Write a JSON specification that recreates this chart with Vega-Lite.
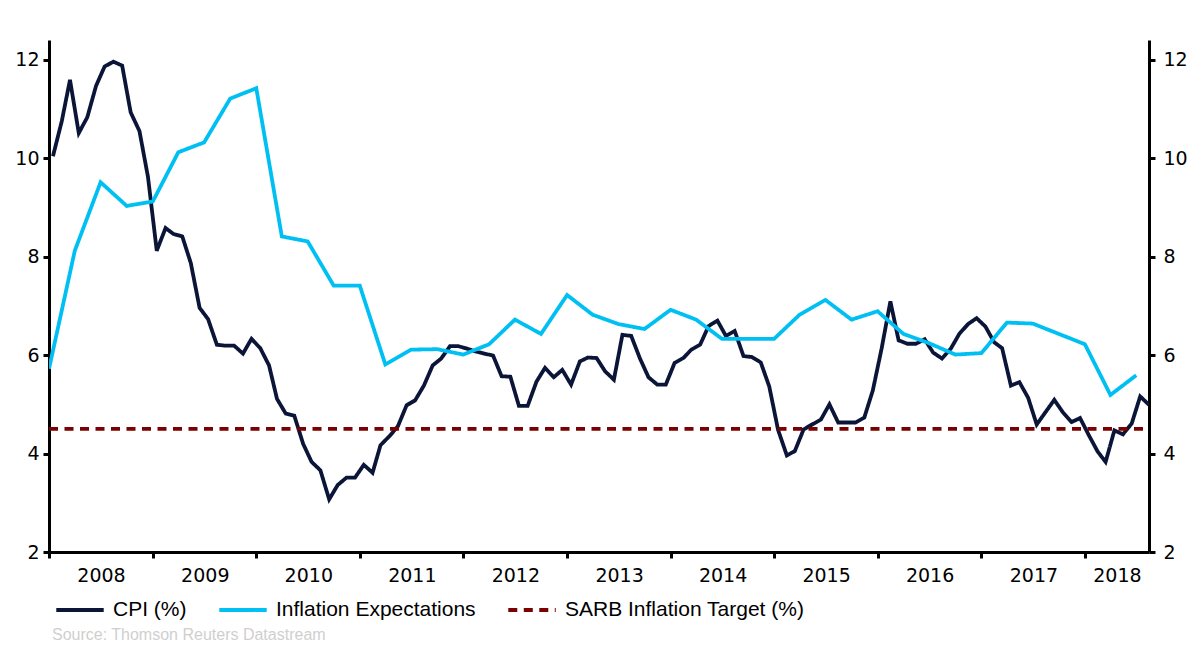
{
  "$schema": "https://vega.github.io/schema/vega-lite/v6.json",
  "width": 1100,
  "height": 512,
  "autosize": {"type": "none"},
  "padding": {"left": 49, "top": 40, "right": 49, "bottom": 96},
  "background": "white",
  "config": {
    "view": {"stroke": null},
    "axis": {"grid": false, "domainColor": "black", "tickColor": "black", "labelColor": "black", "domainWidth": 3, "tickWidth": 3, "tickSize": 6, "labelFont": "DejaVu Sans", "labelFontSize": 19, "title": null}
  },
  "title": {"text": "Source: Thomson Reuters Datastream", "orient": "bottom", "anchor": "start", "frame": "group", "font": "Liberation Sans", "fontSize": 16, "fontWeight": "normal", "color": "#cfcfcf", "dx": 3, "offset": 7},
  "data": {"values": [
    {"date":"2008-01-15","series":"CPI (%)","value":10.04},{"date":"2008-02-15","series":"CPI (%)","value":10.75},{"date":"2008-03-15","series":"CPI (%)","value":11.59},{"date":"2008-04-15","series":"CPI (%)","value":10.51},{"date":"2008-05-15","series":"CPI (%)","value":10.83},{"date":"2008-06-15","series":"CPI (%)","value":11.47},{"date":"2008-07-15","series":"CPI (%)","value":11.86},{"date":"2008-08-15","series":"CPI (%)","value":11.96},{"date":"2008-09-15","series":"CPI (%)","value":11.88},{"date":"2008-10-15","series":"CPI (%)","value":10.93},{"date":"2008-11-15","series":"CPI (%)","value":10.55},{"date":"2008-12-15","series":"CPI (%)","value":9.62},
    {"date":"2009-01-15","series":"CPI (%)","value":8.12},{"date":"2009-02-15","series":"CPI (%)","value":8.58},{"date":"2009-03-15","series":"CPI (%)","value":8.46},{"date":"2009-04-15","series":"CPI (%)","value":8.41},{"date":"2009-05-15","series":"CPI (%)","value":7.87},{"date":"2009-06-15","series":"CPI (%)","value":6.96},{"date":"2009-07-15","series":"CPI (%)","value":6.73},{"date":"2009-08-15","series":"CPI (%)","value":6.21},{"date":"2009-09-15","series":"CPI (%)","value":6.19},{"date":"2009-10-15","series":"CPI (%)","value":6.19},{"date":"2009-11-15","series":"CPI (%)","value":6.03},{"date":"2009-12-15","series":"CPI (%)","value":6.33},
    {"date":"2010-01-15","series":"CPI (%)","value":6.14},{"date":"2010-02-15","series":"CPI (%)","value":5.79},{"date":"2010-03-15","series":"CPI (%)","value":5.11},{"date":"2010-04-15","series":"CPI (%)","value":4.81},{"date":"2010-05-15","series":"CPI (%)","value":4.77},{"date":"2010-06-15","series":"CPI (%)","value":4.20},{"date":"2010-07-15","series":"CPI (%)","value":3.83},{"date":"2010-08-15","series":"CPI (%)","value":3.66},{"date":"2010-09-15","series":"CPI (%)","value":3.07},{"date":"2010-10-15","series":"CPI (%)","value":3.36},{"date":"2010-11-15","series":"CPI (%)","value":3.51},{"date":"2010-12-15","series":"CPI (%)","value":3.51},
    {"date":"2011-01-15","series":"CPI (%)","value":3.77},{"date":"2011-02-15","series":"CPI (%)","value":3.61},{"date":"2011-03-15","series":"CPI (%)","value":4.17},{"date":"2011-04-15","series":"CPI (%)","value":4.35},{"date":"2011-05-15","series":"CPI (%)","value":4.55},{"date":"2011-06-15","series":"CPI (%)","value":4.98},{"date":"2011-07-15","series":"CPI (%)","value":5.08},{"date":"2011-08-15","series":"CPI (%)","value":5.38},{"date":"2011-09-15","series":"CPI (%)","value":5.79},{"date":"2011-10-15","series":"CPI (%)","value":5.93},{"date":"2011-11-15","series":"CPI (%)","value":6.18},{"date":"2011-12-15","series":"CPI (%)","value":6.18},
    {"date":"2012-01-15","series":"CPI (%)","value":6.13},{"date":"2012-02-15","series":"CPI (%)","value":6.07},{"date":"2012-03-15","series":"CPI (%)","value":6.03},{"date":"2012-04-15","series":"CPI (%)","value":5.99},{"date":"2012-05-15","series":"CPI (%)","value":5.57},{"date":"2012-06-15","series":"CPI (%)","value":5.56},{"date":"2012-07-15","series":"CPI (%)","value":4.97},{"date":"2012-08-15","series":"CPI (%)","value":4.97},{"date":"2012-09-15","series":"CPI (%)","value":5.46},{"date":"2012-10-15","series":"CPI (%)","value":5.74},{"date":"2012-11-15","series":"CPI (%)","value":5.55},{"date":"2012-12-15","series":"CPI (%)","value":5.70},
    {"date":"2013-01-15","series":"CPI (%)","value":5.40},{"date":"2013-02-15","series":"CPI (%)","value":5.87},{"date":"2013-03-15","series":"CPI (%)","value":5.95},{"date":"2013-04-15","series":"CPI (%)","value":5.94},{"date":"2013-05-15","series":"CPI (%)","value":5.67},{"date":"2013-06-15","series":"CPI (%)","value":5.50},{"date":"2013-07-15","series":"CPI (%)","value":6.41},{"date":"2013-08-15","series":"CPI (%)","value":6.39},{"date":"2013-09-15","series":"CPI (%)","value":5.93},{"date":"2013-10-15","series":"CPI (%)","value":5.55},{"date":"2013-11-15","series":"CPI (%)","value":5.40},{"date":"2013-12-15","series":"CPI (%)","value":5.40},
    {"date":"2014-01-15","series":"CPI (%)","value":5.84},{"date":"2014-02-15","series":"CPI (%)","value":5.94},{"date":"2014-03-15","series":"CPI (%)","value":6.11},{"date":"2014-04-15","series":"CPI (%)","value":6.21},{"date":"2014-05-15","series":"CPI (%)","value":6.59},{"date":"2014-06-15","series":"CPI (%)","value":6.70},{"date":"2014-07-15","series":"CPI (%)","value":6.39},{"date":"2014-08-15","series":"CPI (%)","value":6.49},{"date":"2014-09-15","series":"CPI (%)","value":5.98},{"date":"2014-10-15","series":"CPI (%)","value":5.96},{"date":"2014-11-15","series":"CPI (%)","value":5.85},{"date":"2014-12-15","series":"CPI (%)","value":5.36},
    {"date":"2015-01-15","series":"CPI (%)","value":4.48},{"date":"2015-02-15","series":"CPI (%)","value":3.96},{"date":"2015-03-15","series":"CPI (%)","value":4.05},{"date":"2015-04-15","series":"CPI (%)","value":4.49},{"date":"2015-05-15","series":"CPI (%)","value":4.59},{"date":"2015-06-15","series":"CPI (%)","value":4.69},{"date":"2015-07-15","series":"CPI (%)","value":5.00},{"date":"2015-08-15","series":"CPI (%)","value":4.63},{"date":"2015-09-15","series":"CPI (%)","value":4.63},{"date":"2015-10-15","series":"CPI (%)","value":4.63},{"date":"2015-11-15","series":"CPI (%)","value":4.73},{"date":"2015-12-15","series":"CPI (%)","value":5.28},
    {"date":"2016-01-15","series":"CPI (%)","value":6.13},{"date":"2016-02-15","series":"CPI (%)","value":7.09},{"date":"2016-03-15","series":"CPI (%)","value":6.30},{"date":"2016-04-15","series":"CPI (%)","value":6.23},{"date":"2016-05-15","series":"CPI (%)","value":6.23},{"date":"2016-06-15","series":"CPI (%)","value":6.32},{"date":"2016-07-15","series":"CPI (%)","value":6.05},{"date":"2016-08-15","series":"CPI (%)","value":5.93},{"date":"2016-09-15","series":"CPI (%)","value":6.13},{"date":"2016-10-15","series":"CPI (%)","value":6.43},{"date":"2016-11-15","series":"CPI (%)","value":6.63},{"date":"2016-12-15","series":"CPI (%)","value":6.75},
    {"date":"2017-01-15","series":"CPI (%)","value":6.58},{"date":"2017-02-15","series":"CPI (%)","value":6.26},{"date":"2017-03-15","series":"CPI (%)","value":6.14},{"date":"2017-04-15","series":"CPI (%)","value":5.38},{"date":"2017-05-15","series":"CPI (%)","value":5.45},{"date":"2017-06-15","series":"CPI (%)","value":5.13},{"date":"2017-07-15","series":"CPI (%)","value":4.59},{"date":"2017-08-15","series":"CPI (%)","value":4.84},{"date":"2017-09-15","series":"CPI (%)","value":5.09},{"date":"2017-10-15","series":"CPI (%)","value":4.84},{"date":"2017-11-15","series":"CPI (%)","value":4.64},{"date":"2017-12-15","series":"CPI (%)","value":4.72},
    {"date":"2018-01-15","series":"CPI (%)","value":4.37},{"date":"2018-02-15","series":"CPI (%)","value":4.04},{"date":"2018-03-15","series":"CPI (%)","value":3.83},{"date":"2018-04-15","series":"CPI (%)","value":4.47},{"date":"2018-05-15","series":"CPI (%)","value":4.39},{"date":"2018-06-15","series":"CPI (%)","value":4.61},{"date":"2018-07-15","series":"CPI (%)","value":5.16},{"date":"2018-08-15","series":"CPI (%)","value":4.99},
    {"date":"2008-01-01","series":"Inflation Expectations","value":5.72},{"date":"2008-04-01","series":"Inflation Expectations","value":8.12},{"date":"2008-07-01","series":"Inflation Expectations","value":9.51},{"date":"2008-10-01","series":"Inflation Expectations","value":9.03},
    {"date":"2009-01-01","series":"Inflation Expectations","value":9.12},{"date":"2009-04-01","series":"Inflation Expectations","value":10.12},{"date":"2009-07-01","series":"Inflation Expectations","value":10.32},{"date":"2009-10-01","series":"Inflation Expectations","value":11.21},
    {"date":"2010-01-01","series":"Inflation Expectations","value":11.42},{"date":"2010-04-01","series":"Inflation Expectations","value":8.41},{"date":"2010-07-01","series":"Inflation Expectations","value":8.31},{"date":"2010-10-01","series":"Inflation Expectations","value":7.41},
    {"date":"2011-01-01","series":"Inflation Expectations","value":7.41},{"date":"2011-04-01","series":"Inflation Expectations","value":5.81},{"date":"2011-07-01","series":"Inflation Expectations","value":6.11},{"date":"2011-10-01","series":"Inflation Expectations","value":6.12},
    {"date":"2012-01-01","series":"Inflation Expectations","value":6.01},{"date":"2012-04-01","series":"Inflation Expectations","value":6.22},{"date":"2012-07-01","series":"Inflation Expectations","value":6.72},{"date":"2012-10-01","series":"Inflation Expectations","value":6.43},
    {"date":"2013-01-01","series":"Inflation Expectations","value":7.22},{"date":"2013-04-01","series":"Inflation Expectations","value":6.82},{"date":"2013-07-01","series":"Inflation Expectations","value":6.63},{"date":"2013-10-01","series":"Inflation Expectations","value":6.53},
    {"date":"2014-01-01","series":"Inflation Expectations","value":6.92},{"date":"2014-04-01","series":"Inflation Expectations","value":6.72},{"date":"2014-07-01","series":"Inflation Expectations","value":6.33},{"date":"2014-10-01","series":"Inflation Expectations","value":6.33},
    {"date":"2015-01-01","series":"Inflation Expectations","value":6.33},{"date":"2015-04-01","series":"Inflation Expectations","value":6.82},{"date":"2015-07-01","series":"Inflation Expectations","value":7.12},{"date":"2015-10-01","series":"Inflation Expectations","value":6.72},
    {"date":"2016-01-01","series":"Inflation Expectations","value":6.89},{"date":"2016-04-01","series":"Inflation Expectations","value":6.43},{"date":"2016-07-01","series":"Inflation Expectations","value":6.24},{"date":"2016-10-01","series":"Inflation Expectations","value":6.01},
    {"date":"2017-01-01","series":"Inflation Expectations","value":6.04},{"date":"2017-04-01","series":"Inflation Expectations","value":6.66},{"date":"2017-07-01","series":"Inflation Expectations","value":6.64},{"date":"2017-10-01","series":"Inflation Expectations","value":6.43},
    {"date":"2018-01-01","series":"Inflation Expectations","value":6.22},{"date":"2018-04-01","series":"Inflation Expectations","value":5.19},{"date":"2018-07-01","series":"Inflation Expectations","value":5.59},
    {"date":"2008-01-01","series":"SARB Inflation Target (%)","value":4.5},{"date":"2018-08-15","series":"SARB Inflation Target (%)","value":4.5}
  ]},
  "encoding": {
    "x": {
      "field": "date", "type": "temporal",
      "scale": {"type": "utc", "domain": [{"year": 2008, "month": 1, "date": 1, "utc": true}, {"year": 2018, "month": 8, "date": 15, "utc": true}], "nice": false},
      "axis": {"format": "%Y", "tickCount": {"interval": "year", "step": 1}, "labelPadding": 8, "labelAlign": "center", "labelFlush": false, "labelOverlap": false,
               "labelOffset": {"condition": {"test": "utcFormat(datum.value, '%Y') == '2018'", "value": 32}, "value": 52}}
    }
  },
  "layer": [
    {
      "mark": {"type": "line", "strokeWidth": 3.8, "clip": true},
      "encoding": {
        "y": {"field": "value", "type": "quantitative", "scale": {"domain": [2, 12.4], "nice": false, "zero": false},
              "axis": {"orient": "left", "values": [2, 4, 6, 8, 10, 12], "labelPadding": 4}},
        "color": {"field": "series", "type": "nominal",
          "scale": {"domain": ["CPI (%)", "Inflation Expectations", "SARB Inflation Target (%)"], "range": ["#0a1538", "#00c0f3", "#7b0000"]},
          "legend": {"orient": "none", "legendX": 5, "legendY": 544, "direction": "horizontal", "title": null, "padding": 0,
                     "symbolType": "stroke", "symbolSize": 2250, "symbolStrokeWidth": 4,
                     "labelFont": "Liberation Sans", "labelFontSize": 21, "labelColor": "black", "labelOffset": 7, "columnPadding": 24, "labelLimit": 400}},
        "strokeDash": {"field": "series", "type": "nominal",
          "scale": {"domain": ["CPI (%)", "Inflation Expectations", "SARB Inflation Target (%)"], "range": [[1, 0], [1, 0], [9, 6.5]]},
          "legend": {"orient": "none", "legendX": 5, "legendY": 544, "direction": "horizontal", "title": null, "padding": 0,
                     "symbolType": "stroke", "symbolSize": 2250, "symbolStrokeWidth": 4,
                     "labelFont": "Liberation Sans", "labelFontSize": 21, "labelColor": "black", "labelOffset": 7, "columnPadding": 24, "labelLimit": 400}}
      }
    },
    {
      "mark": {"type": "line", "opacity": 0},
      "encoding": {
        "y": {"field": "value", "type": "quantitative", "scale": {"domain": [2, 12.4], "nice": false, "zero": false},
              "axis": {"orient": "right", "values": [2, 4, 6, 8, 10, 12], "labelPadding": 8}}
      }
    }
  ],
  "resolve": {"axis": {"y": "independent"}}
}
